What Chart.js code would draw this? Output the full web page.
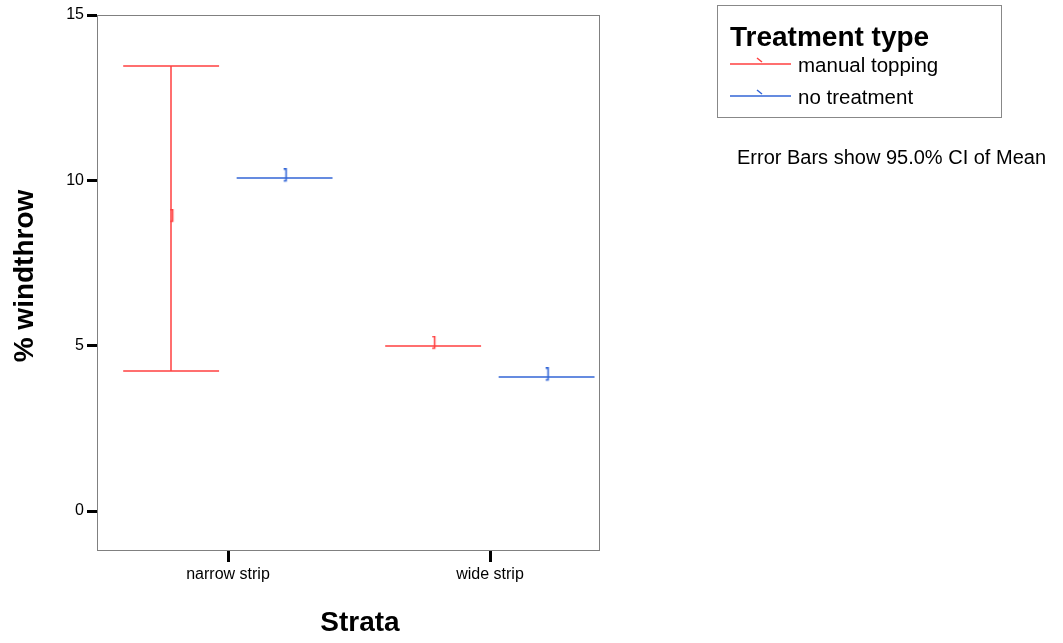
<!DOCTYPE html>
<html>
<head>
<meta charset="utf-8">
<script src="https://cdn.jsdelivr.net/npm/chart.js@4.4.1/dist/chart.umd.min.js"></script>
<style>
  html, body { margin: 0; padding: 0; background: #fff; }
  #wrap { width: 1063px; height: 643px; }
</style>
</head>
<body>
<div id="wrap"><canvas id="windthrow" width="1063" height="643"></canvas></div>
<script>
// strata on the x axis, one group of error bars per treatment
var strata = ['narrow strip', 'wide strip'];
var treatments = ['manual topping', 'no treatment'];

// % windthrow: mean and 95% CI bounds per stratum
var toppingMean  = [8.84, 5.00];
var toppingLower = [4.22, 5.00];
var toppingUpper = [13.45, 5.00];

var noneMean  = [10.06, 4.04];
var noneLower = [10.06, 4.04];
var noneUpper = [10.06, 4.04];

var yTicks = [0, 5, 10, 15];

var colors = ['#ff4040', '#3366d6'];
var groupOffset = [-0.217, 0.216];
var capHalf = 0.183;
var font = "'Liberation Sans', Arial, sans-serif";

var series = [
  { mean: toppingMean, lower: toppingLower, upper: toppingUpper },
  { mean: noneMean, lower: noneLower, upper: noneUpper }
];

// little "]" used as the mean marker
function meanMark(color) {
  var c = document.createElement('canvas');
  c.width = 8;
  c.height = 20;
  var g = c.getContext('2d');
  g.strokeStyle = color;
  g.lineWidth = 1.6;
  g.beginPath();
  g.moveTo(3, 0.8);
  g.lineTo(5.5, 0.8);
  g.lineTo(5.5, 12.5);
  g.lineTo(3, 12.5);
  g.stroke();
  return c;
}

var datasets = series.map(function (s, k) {
  return {
    label: treatments[k],
    data: strata.map(function (name, i) {
      return { x: i + groupOffset[k], y: s.mean[i] };
    }),
    pointStyle: meanMark(colors[k]),
    pointRadius: 4,
    borderColor: colors[k],
    backgroundColor: colors[k],
    showLine: false
  };
});

var extras = {
  id: 'extras',
  beforeDatasetsDraw: function (chart) {
    var ctx = chart.ctx;
    var xs = chart.scales.x, ys = chart.scales.y;
    ctx.save();
    ctx.lineWidth = 1.5;
    series.forEach(function (s, k) {
      ctx.strokeStyle = colors[k];
      strata.forEach(function (name, i) {
        var xc = i + groupOffset[k];
        var px = Math.round(xs.getPixelForValue(xc));
        var x0 = xs.getPixelForValue(xc - capHalf);
        var x1 = xs.getPixelForValue(xc + capHalf);
        var yu = Math.round(ys.getPixelForValue(s.upper[i]));
        var yl = Math.round(ys.getPixelForValue(s.lower[i]));
        ctx.beginPath();
        ctx.moveTo(px, yu); ctx.lineTo(px, yl);
        ctx.moveTo(x0, yu); ctx.lineTo(x1, yu);
        ctx.moveTo(x0, yl); ctx.lineTo(x1, yl);
        ctx.stroke();
      });
    });
    ctx.restore();
  },
  afterDraw: function (chart) {
    var ctx = chart.ctx;
    var a = chart.chartArea;
    ctx.save();

    // plot frame
    ctx.strokeStyle = '#808080';
    ctx.lineWidth = 1;
    ctx.strokeRect(a.left + 0.5, a.top + 0.5, a.right - a.left, a.bottom - a.top);

    // axis titles
    ctx.fillStyle = '#000';
    ctx.font = 'bold 28px ' + font;
    ctx.textAlign = 'center';
    ctx.textBaseline = 'middle';
    ctx.fillText('Strata', 360, 623);
    ctx.translate(25, 276);
    ctx.rotate(-Math.PI / 2);
    ctx.fillText('% windthrow', 0, 0);
    ctx.restore();

    // legend box
    ctx.save();
    ctx.strokeStyle = '#888';
    ctx.lineWidth = 1;
    ctx.strokeRect(717.5, 5.5, 284, 112);
    ctx.fillStyle = '#000';
    ctx.font = 'bold 28px ' + font;
    ctx.textAlign = 'left';
    ctx.textBaseline = 'alphabetic';
    ctx.fillText('Treatment type', 730, 46);
    ctx.font = '20.5px ' + font;
    ctx.textBaseline = 'middle';
    ctx.lineWidth = 1.5;
    treatments.forEach(function (t, k) {
      var y = 64 + k * 32;
      ctx.strokeStyle = colors[k];
      ctx.beginPath();
      ctx.moveTo(730, y); ctx.lineTo(791, y);
      ctx.moveTo(757, y - 6); ctx.lineTo(762, y - 2);
      ctx.stroke();
      ctx.fillText(t, 798, y + 2);
    });

    ctx.font = '20px ' + font;
    ctx.fillText('Error Bars show 95.0% CI of Mean', 737, 158);
    ctx.restore();
  }
};

new Chart(document.getElementById('windthrow'), {
  type: 'scatter',
  data: { datasets: datasets },
  options: {
    responsive: false,
    devicePixelRatio: 1,
    animation: false,
    layout: { padding: { left: 0, top: 15, right: 464, bottom: 0 } },
    plugins: {
      legend: { display: false },
      tooltip: { enabled: false }
    },
    scales: {
      x: {
        type: 'linear',
        min: -0.5,
        max: -0.5 + 502 / 262,
        afterFit: function (scale) { scale.height = 93; },
        afterBuildTicks: function (scale) {
          scale.ticks = strata.map(function (s, i) { return { value: i }; });
        },
        ticks: {
          color: '#000',
          font: { family: font, size: 16 },
          padding: 3,
          maxRotation: 0,
          callback: function (v) { return strata[v]; }
        },
        grid: {
          drawOnChartArea: false,
          drawTicks: true,
          tickLength: 12,
          tickWidth: 3,
          tickColor: '#000'
        },
        border: { display: false }
      },
      y: {
        min: -(550 - 511) / (496 / 15),
        max: 15,
        afterFit: function (scale) { scale.width = 97; },
        afterBuildTicks: function (scale) {
          scale.ticks = yTicks.map(function (v) { return { value: v }; });
        },
        ticks: {
          color: '#000',
          font: { family: font, size: 16 },
          padding: 3
        },
        grid: {
          drawOnChartArea: false,
          drawTicks: true,
          tickLength: 10,
          tickWidth: 3,
          tickColor: '#000'
        },
        border: { display: false }
      }
    }
  },
  plugins: [extras]
});
</script>
</body>
</html>
